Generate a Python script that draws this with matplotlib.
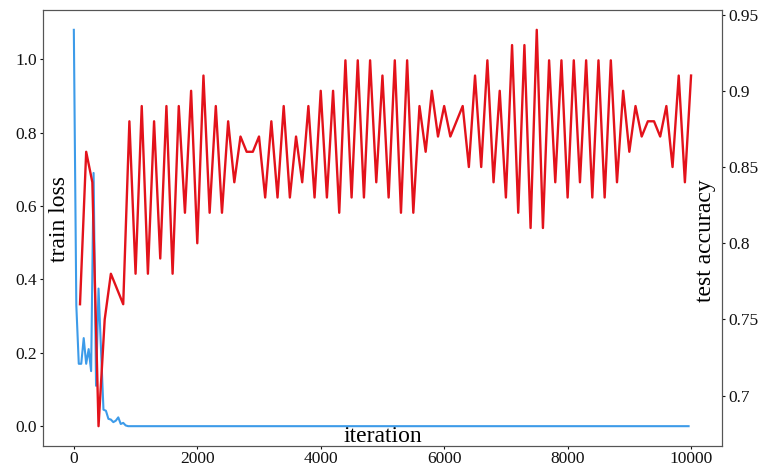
import matplotlib.pyplot as plt
import numpy as np

plt.rcParams['font.family'] = ['Liberation Serif', 'DejaVu Serif']

# train loss (left axis), logged every 40 iterations, flat at 0 after ~900
loss_iter = [0, 40, 80, 120, 160, 200, 240, 280, 320, 360, 400, 440, 480,
             520, 560, 600, 640, 680, 720, 760, 800, 840, 880, 9960]
train_loss = [1.08, 0.33, 0.17, 0.17, 0.24, 0.17, 0.21, 0.15, 0.69, 0.11,
              0.375, 0.21, 0.045, 0.042, 0.02, 0.018, 0.011, 0.015, 0.024,
              0.006, 0.009, 0.002, 0.0, 0.0]

# test accuracy (right axis), every 100 iterations
acc_iter = list(range(100, 10001, 100))
test_acc = [0.76, 0.86, 0.84, 0.68, 0.75, 0.78, 0.77, 0.76, 0.88, 0.78,
            0.89, 0.78, 0.88, 0.79, 0.89, 0.78, 0.89, 0.82, 0.90, 0.80,
            0.91, 0.82, 0.89, 0.82, 0.88, 0.84, 0.87, 0.86, 0.86, 0.87,
            0.83, 0.88, 0.83, 0.89, 0.83, 0.87, 0.84, 0.89, 0.83, 0.90,
            0.83, 0.90, 0.82, 0.92, 0.83, 0.92, 0.83, 0.92, 0.84, 0.91,
            0.83, 0.92, 0.82, 0.92, 0.82, 0.89, 0.86, 0.90, 0.87, 0.89,
            0.87, 0.88, 0.89, 0.85, 0.91, 0.85, 0.92, 0.84, 0.90, 0.83,
            0.93, 0.82, 0.93, 0.81, 0.94, 0.81, 0.92, 0.84, 0.92, 0.83,
            0.92, 0.84, 0.92, 0.83, 0.92, 0.83, 0.92, 0.84, 0.90, 0.86,
            0.89, 0.87, 0.88, 0.88, 0.87, 0.89, 0.85, 0.91, 0.84, 0.91]

fig = plt.figure(figsize=(7.62, 4.72), dpi=100)
ax1 = fig.add_axes([0.0564, 0.0551, 0.891, 0.9237])
ax1.plot(loss_iter, train_loss, color='#3d9be9', linewidth=1.5)
ax1.set_yticks([0.0, 0.2, 0.4, 0.6, 0.8, 1.0])
ax1.set_xticks([0, 2000, 4000, 6000, 8000, 10000])

ax2 = ax1.twinx()
ax2.plot(acc_iter, test_acc, color='#e3121b', linewidth=1.7)
ax2.set_yticks([0.7, 0.75, 0.8, 0.85, 0.9, 0.95])
ax2.set_yticklabels(['0.7', '0.75', '0.8', '0.85', '0.9', '0.95'])

for ax in (ax1, ax2):
    ax.tick_params(labelsize=12.5, colors='#111111', length=2.5, pad=2)
    for s in ax.spines.values():
        s.set_color('#555555')
ax1.tick_params(axis='x', pad=1)

# labels sit inside the frame in the original
ax1.set_xlabel('iteration', fontsize=17, va='center')
ax1.xaxis.set_label_coords(0.5, 0.022)
ax1.set_ylabel('train loss', fontsize=17, va='center')
ax1.yaxis.set_label_coords(0.025, 0.52)
ax2.set_ylabel('test accuracy', fontsize=17, va='center')
ax2.yaxis.set_label_coords(0.976, 0.47)

plt.savefig('out.png', dpi=100)
